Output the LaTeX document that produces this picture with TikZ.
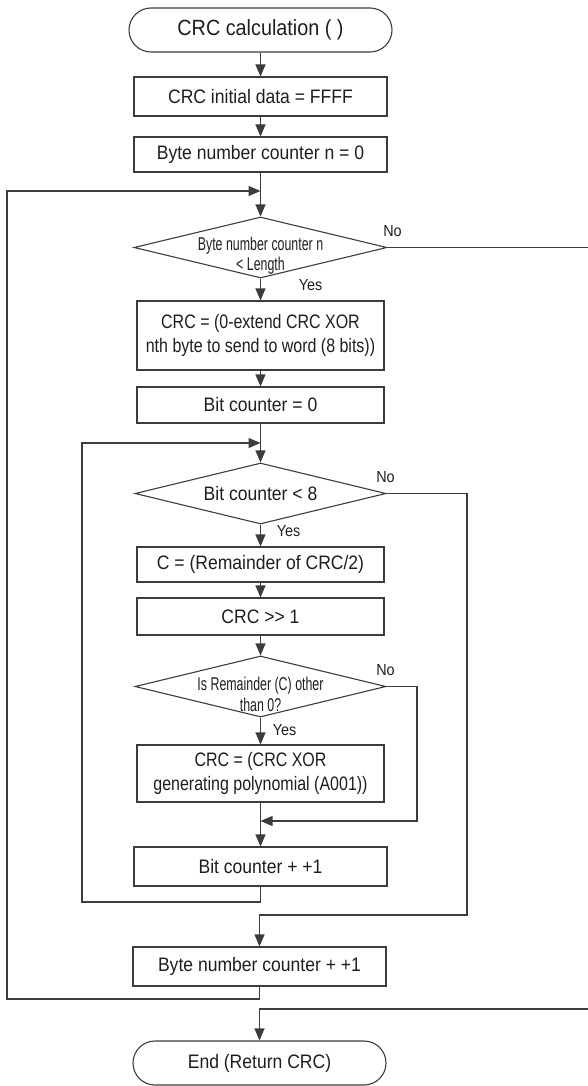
\documentclass[tikz,border=0pt]{standalone}
\usepackage{fontspec}
\setmainfont{Liberation Sans}
\newfontfamily\mf[FakeStretch=0.9]{Liberation Sans}
\newfontfamily\nf[FakeStretch=0.82]{Liberation Sans}
\newfontfamily\cf[FakeStretch=0.67]{Liberation Sans}
\usetikzlibrary{arrows.meta,shapes.geometric}
\definecolor{ln}{RGB}{60,60,60}
\definecolor{tx}{RGB}{30,30,30}
\tikzset{
  base/.style={draw=ln, line width=1.1pt, text=tx, inner sep=0pt, align=center},
  proc/.style={base, rectangle, font=\mf\fontsize{19.5}{24}\selectfont},
  proctwo/.style={base, rectangle, font=\nf\fontsize{19.5}{24}\selectfont},
  term/.style={base, rectangle, rounded corners=22pt, font=\mf\fontsize{19.5}{24}\selectfont},
  dec/.style={base, diamond},
  dtxt/.style={text=tx, inner sep=0pt, align=center, font=\cf\fontsize{18.5}{20.5}\selectfont, yshift=-8pt},
  dtxtn/.style={text=tx, inner sep=0pt, align=center, font=\mf\fontsize{19.5}{24}\selectfont},
  lab/.style={text=tx, inner sep=0pt, font=\mf\fontsize{16}{18}\selectfont},
  arr/.style={draw=ln, line width=1.1pt, -{Triangle[length=12pt,width=10pt]}},
}
\begin{document}
\begin{tikzpicture}[x=1pt,y=-1pt]
\useasboundingbox (0,0) rectangle (588,1086);

% nodes
\node[term, font=\mf\fontsize{22}{26}\selectfont, minimum width=263pt, minimum height=44pt] (start) at (260.5,30) {CRC calculation ( )};
\node[proc, minimum width=253pt, minimum height=39pt] (init) at (260.5,96.5) {CRC initial data = FFFF};
\node[proc, minimum width=253pt, minimum height=35pt] (n0) at (260.5,154.5) {Byte number counter n = 0};
\node[dec, minimum width=253pt, minimum height=61pt,
      label={[dtxt]center:{Byte number counter n\\< Length}}] (d1) at (260.5,247.5) {};
\node[proctwo, minimum width=247pt, minimum height=69pt] (b1) at (260.5,335.5) {CRC = (0-extend CRC XOR\\nth byte to send to word (8 bits))};
\node[proc, minimum width=247pt, minimum height=36pt] (bc0) at (260.5,405) {Bit counter = 0};
\node[dec, minimum width=251pt, minimum height=61pt,
      label={[dtxtn]center:{Bit counter < 8}}] (d2) at (260.5,493.5) {};
\node[proc, minimum width=247pt, minimum height=35pt] (crem) at (260.5,564.5) {C = (Remainder of CRC/2)};
\node[proc, minimum width=247pt, minimum height=37pt] (shr) at (260.5,616.5) {CRC >> 1};
\node[dec, minimum width=251pt, minimum height=61pt,
      label={[dtxt]center:{Is Remainder (C) other\\than 0?}}] (d3) at (260.5,686.5) {};
\node[proctwo, minimum width=247pt, minimum height=57pt] (xorb) at (260.5,773.5) {CRC = (CRC XOR\\generating polynomial (A001))};
\node[proc, minimum width=253pt, minimum height=39pt] (bcinc) at (260.5,866.5) {Bit counter + +1};
\node[proc, minimum width=253pt, minimum height=39pt] (bninc) at (259.5,966.5) {Byte number counter + +1};
\node[term, minimum width=253pt, minimum height=44pt] (end) at (259.5,1063) {End (Return CRC)};

% labels
\node[lab] (no1) at (392.5,231) {No};
\node[lab] (yes1) at (310.5,285) {Yes};
\node[lab] (no2) at (385.5,477.5) {No};
\node[lab] (yes2) at (288.5,531) {Yes};
\node[lab] (no3) at (385.5,670.5) {No};
\node[lab] (yes3) at (284.5,730) {Yes};

% helper coordinates
\coordinate (j1) at (260.5,191);
\coordinate (L1) at (7,999);
\coordinate (R1) at (600,1009);
\coordinate (j2) at (260.5,443);
\coordinate (L2) at (82,902);
\coordinate (R2) at (467,915);
\coordinate (R3) at (417,821);
\coordinate (j3) at (260.5,821);

% connectors
\draw[arr] (start.south) -- (init.north);
\draw[arr] (init.south) -- (n0.north);
\draw[arr] (n0.south) -- (d1.north);
\draw[arr] (bninc.south) |- (L1) |- (j1);
\draw[arr] (d1.east) -| (R1) -| (end.north);
\draw[arr] (d1.south) -- (b1.north);
\draw[arr] (b1.south) -- (bc0.north);
\draw[arr] (bc0.south) -- (d2.north);
\draw[arr] (bcinc.south) |- (L2) |- (j2);
\draw[arr] (d2.east) -| (R2) -| (bninc.north);
\draw[arr] (d2.south) -- (crem.north);
\draw[arr] (crem.south) -- (shr.north);
\draw[arr] (shr.south) -- (d3.north);
\draw[arr] (d3.south) -- (xorb.north);
\draw[arr] (xorb.south) -- (bcinc.north);
\draw[arr] (d3.east) -| (R3) -- (j3);
\end{tikzpicture}
\end{document}
